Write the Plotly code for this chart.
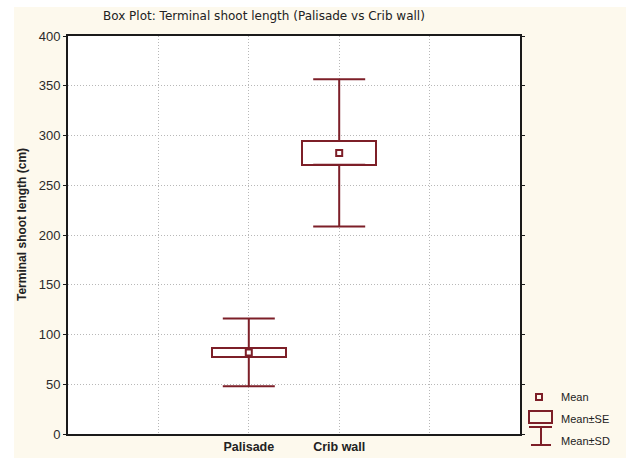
import plotly.graph_objects as go

# ---- data ----
categories = ["Palisade", "Crib wall"]
means = [82.0, 282.5]
se = [4.5, 12.0]
sd = [34.0, 74.0]
y_ticks = [0, 50, 100, 150, 200, 250, 300, 350, 400]

title_text = "Box Plot: Terminal shoot length (Palisade vs Crib wall)"
y_title = "Terminal shoot length (cm)"
legend_labels = ["Mean", "Mean\u00b1SE", "Mean\u00b1SD"]

# ---- styling / layout ----
W, H = 626, 458
L, R, T, B = 68, 520, 36, 434
RED = "#7d1f28"
FONT = "Liberation Sans"

def px(x):
    return (x - L) / (R - L)

def py(y):
    return (B - y) / (B - T)

xpos = [i + 2 for i in range(len(categories))]
box_lo = [m - s for m, s in zip(means, se)]
box_hi = [m + s for m, s in zip(means, se)]
box_h = [2 * s for s in se]
wh_len = [d - s for d, s in zip(sd, se)]
zeros = [0] * len(categories)

fig = go.Figure()

# SE box
fig.add_trace(go.Bar(
    x=xpos, y=box_h, base=box_lo, width=0.82,
    marker=dict(color="white", line=dict(color=RED, width=2)),
    hoverinfo="skip",
))
# SD whiskers (upper)
fig.add_trace(go.Scatter(
    x=xpos, y=box_hi, mode="markers",
    marker=dict(size=1, color="rgba(0,0,0,0)"),
    error_y=dict(type="data", symmetric=False, array=wh_len, arrayminus=zeros,
                 color=RED, thickness=2, width=26),
    hoverinfo="skip",
))
# SD whiskers (lower)
fig.add_trace(go.Scatter(
    x=xpos, y=box_lo, mode="markers",
    marker=dict(size=1, color="rgba(0,0,0,0)"),
    error_y=dict(type="data", symmetric=False, array=zeros, arrayminus=wh_len,
                 color=RED, thickness=2, width=26),
    hoverinfo="skip",
))
# Mean
fig.add_trace(go.Scatter(
    x=xpos, y=means, mode="markers",
    marker=dict(symbol="square-open", size=6, color=RED, line=dict(width=2, color=RED)),
    hoverinfo="skip",
))

shapes = [
    # white strips at top and left of the image
    dict(type="rect", xref="paper", yref="paper", x0=px(0), x1=px(W), y0=py(7), y1=py(0),
         fillcolor="white", line=dict(width=0), layer="below"),
    dict(type="rect", xref="paper", yref="paper", x0=px(0), x1=px(14), y0=py(H), y1=py(0),
         fillcolor="white", line=dict(width=0), layer="below"),
    # legend icons
    dict(type="rect", xref="paper", yref="paper", x0=px(536), x1=px(542), y0=py(400), y1=py(394),
         fillcolor="rgba(0,0,0,0)", line=dict(color=RED, width=2)),
    dict(type="rect", xref="paper", yref="paper", x0=px(529), x1=px(552), y0=py(423), y1=py(411),
         fillcolor="rgba(0,0,0,0)", line=dict(color=RED, width=2)),
    dict(type="line", xref="paper", yref="paper", x0=px(529), x1=px(552), y0=py(427), y1=py(427),
         line=dict(color=RED, width=2)),
    dict(type="line", xref="paper", yref="paper", x0=px(541), x1=px(541), y0=py(427), y1=py(445),
         line=dict(color=RED, width=2)),
    dict(type="line", xref="paper", yref="paper", x0=px(531), x1=px(551), y0=py(445), y1=py(445),
         line=dict(color=RED, width=2)),
]

annotations = [
    dict(text=title_text, xref="paper", yref="paper", x=px(101), y=py(16),
         xanchor="left", yanchor="middle", showarrow=False,
         font=dict(family="DejaVu Sans", size=12, color="#222")),
    dict(text="<b>" + y_title + "</b>", xref="paper", yref="paper", x=px(22), y=py(225),
         xanchor="center", yanchor="middle", textangle=-90, showarrow=False,
         font=dict(family=FONT, size=12, color="#222")),
]
for lbl, yy in zip(legend_labels, [397, 419, 441]):
    annotations.append(dict(text=lbl, xref="paper", yref="paper", x=px(559), y=py(yy),
                            xanchor="left", yanchor="middle", showarrow=False,
                            font=dict(family=FONT, size=11, color="#222")))

fig.update_layout(
    width=W, height=H,
    margin=dict(l=L, r=W - R, t=T, b=H - B, pad=0),
    paper_bgcolor="#fdf9ed",
    plot_bgcolor="white",
    showlegend=False,
    bargap=0,
    shapes=shapes,
    annotations=annotations,
    xaxis=dict(
        range=[0, 5], tickmode="array", tickvals=[1, 2, 3, 4], automargin=False,
        ticktext=[""] + ["<b>" + c + "</b>" for c in categories] + [""],
        showgrid=True, gridcolor="#b8b8b8", griddash="1px,2px", gridwidth=1,
        zeroline=False, showline=True, linecolor="#1a1a1a", linewidth=2, mirror=True,
        ticks="", tickfont=dict(family=FONT, size=12.5, color="#222"),
    ),
    yaxis=dict(
        range=[0, 400], tickmode="array", tickvals=y_ticks, automargin=False,
        showgrid=True, gridcolor="#b8b8b8", griddash="1px,2px", gridwidth=1,
        zeroline=False, showline=True, linecolor="#1a1a1a", linewidth=2, mirror="ticks",
        ticks="outside", ticklen=3, tickcolor="#1a1a1a", tickwidth=1,
        tickfont=dict(family=FONT, size=13, color="#2a2a2a"),
    ),
)

fig.write_html("out.html", config={"displayModeBar": False},
               post_script="document.body.style.margin='0';")
